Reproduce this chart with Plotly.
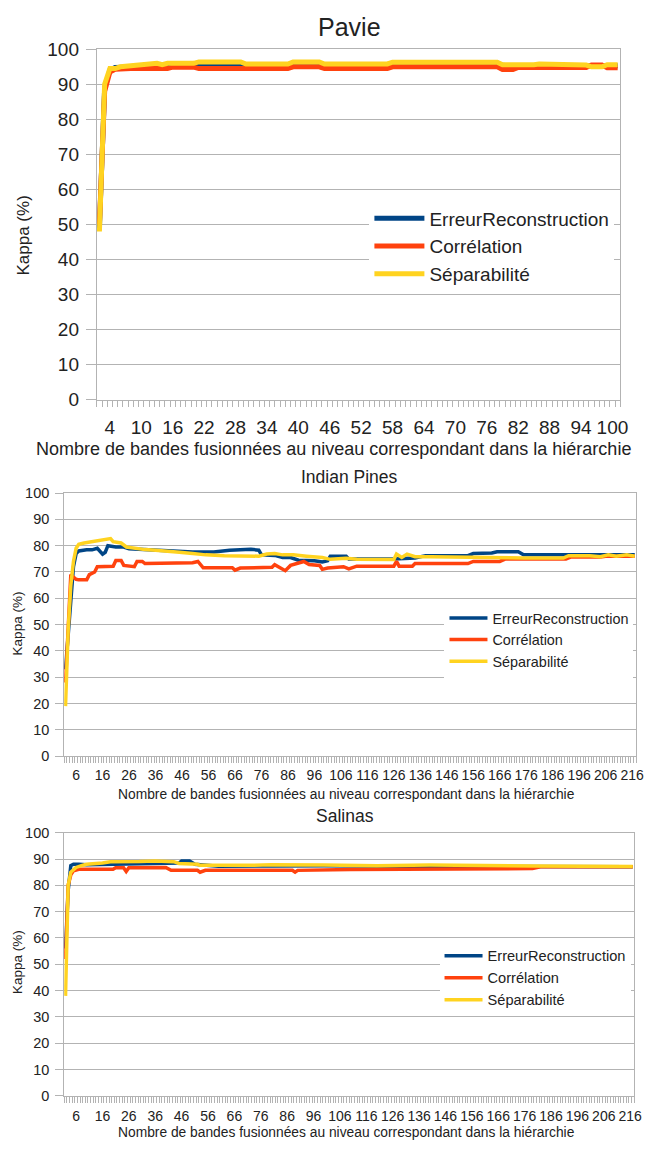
import plotly.graph_objects as go

W, H = 651, 1153
FONT = "Liberation Sans"
TEXT = "#222222"
GRID = "#b3b3b3"
BLUE, ORANGE, YELLOW = "#004586", "#ff420e", "#ffd320"
NAMES = ["ErreurReconstruction", "Corrélation", "Séparabilité"]
XTITLE = "Nombre de bandes fusionnées au niveau correspondant dans la hiérarchie"
YTITLE = "Kappa (%)"

# ---------------- Pavie (levels 2..101) ----------------
pavie_err_x = [2, 3, 4, 5, 10, 20, 40, 60, 78, 84, 86, 96, 101]
pavie_err_y = [49, 89, 94, 94.8, 95.0, 95.3, 95.3, 95.5, 95.5, 95.0, 95.3, 95.2, 95.3]

pavie_cor_x = [2, 3, 4, 5, 8, 15, 16, 20, 21, 38, 39, 44, 45, 57, 58, 78, 79, 81, 82, 95, 96, 98, 99, 101]
pavie_cor_y = [50, 88, 93.5, 94.3, 94.5, 94.5, 94.9, 94.9, 94.5, 94.5, 95.0, 95.0, 94.5, 94.5, 95.0,
               95.0, 94.2, 94.2, 94.8, 94.8, 95.5, 95.5, 94.7, 94.7]

pavie_sep_x = [2, 3, 4, 5, 6, 8, 9, 12, 13, 14, 15, 20, 21, 29, 30, 38, 39, 44, 45, 57, 58, 78, 79,
               85, 86, 95, 96, 98, 99, 101]
pavie_sep_y = [48, 90, 94.5, 94.5, 95.0, 95.2, 95.6, 95.6, 96.0, 95.6, 96.0, 96.0, 96.4, 96.4, 95.8,
               95.8, 96.4, 96.4, 95.8, 95.8, 96.3, 96.3, 95.6, 95.6, 95.8, 95.5, 95.0, 95.0, 95.6, 95.6]

pavie_ticks = [4, 10, 16, 22, 28, 34, 40, 46, 52, 58, 64, 70, 76, 82, 88, 94, 100]

# ---------------- Indian Pines (levels 2..217) ----------------
indian_err_x = [2, 3, 4, 5, 6, 7, 10, 12, 14, 16, 17, 18, 21, 24, 26, 32, 40, 50, 58, 64, 72, 75, 76,
                81, 84, 87, 90, 96, 99, 101, 102, 108, 109, 126, 134, 138, 154, 156, 163, 165, 173,
                175, 200, 217]
indian_err_y = [33, 47, 62, 72, 77, 78, 78.4, 78.4, 79, 76.8, 77.5, 80, 79.5, 79.5, 78.8, 78.5, 78,
                77.6, 77.6, 78.3, 78.6, 78.3, 76.5, 76.3, 75.5, 75.5, 74.5, 74.3, 73.8, 74.3, 76, 76,
                74.9, 74.9, 75.3, 76.2, 76.2, 77, 77.2, 77.7, 77.7, 76.5, 76.5, 76.5]

indian_cor_x = [2, 3, 4, 5, 6, 7, 10, 11, 13, 14, 20, 21, 23, 24, 28, 29, 31, 32, 45, 50, 52, 54, 65,
                66, 68, 80, 81, 83, 85, 87, 92, 94, 98, 99, 101, 107, 109, 112, 126, 127, 128, 133,
                134, 154, 156, 166, 168, 191, 193, 204, 206, 217]
indian_cor_y = [28, 50, 69, 68, 67.2, 67, 67, 69, 70, 72, 72.2, 74.4, 74.4, 72.5, 72, 74, 74, 73.2,
                73.2, 73.5, 74, 71.6, 71.6, 70.7, 71.5, 71.8, 72.8, 71.5, 70.5, 72.5, 74, 72.8, 72.5,
                71, 71.5, 72, 71.2, 72.2, 72.2, 74, 72.2, 72.2, 73.2, 73.2, 74, 74, 74.9, 74.9, 75.7,
                75.7, 76, 76]

indian_sep_x = [2, 3, 4, 5, 6, 7, 9, 12, 15, 17, 19, 20, 23, 25, 28, 32, 36, 40, 45, 50, 55, 62, 68,
                75, 78, 81, 84, 88, 93, 99, 102, 108, 112, 120, 126, 127, 129, 131, 134, 140, 150,
                166, 175, 190, 192, 200, 204, 207, 210, 214, 217]
indian_sep_y = [19, 48, 65, 74, 79, 80.5, 81, 81.5, 81.8, 82.3, 82.7, 81.5, 81, 79.5, 79, 78.5, 78.3,
                77.8, 77.5, 77, 76.5, 76.2, 76, 76, 76.8, 77, 76.5, 76.5, 76, 75.5, 74.8, 75.2, 74.8,
                74.7, 74.7, 76.8, 75.5, 76.8, 75.8, 75.8, 75.6, 75.6, 75.3, 75.3, 76.2, 76.2, 75.8,
                76.5, 76, 76.5, 76]

# ---------------- Salinas (levels 2..217) ----------------
salinas_err_x = [2, 3, 4, 5, 7, 10, 20, 30, 40, 45, 46, 49, 51, 60, 80, 100, 130, 160, 200, 217]
salinas_err_y = [56, 78, 87.5, 88, 88, 87.8, 88, 88.1, 88.3, 88.5, 89.3, 89.3, 88, 87.3, 87.4, 87.5,
                 87.3, 87.2, 87.1, 87.1]

salinas_cor_x = [2, 3, 4, 5, 7, 20, 21, 24, 25, 26, 40, 42, 52, 53, 55, 88, 89, 90, 110, 140, 179,
                 182, 217]
salinas_cor_y = [52, 80, 84, 85.5, 86.1, 86.1, 86.7, 86.7, 85.3, 86.7, 86.8, 85.7, 85.7, 85, 85.7,
                 85.7, 85, 85.7, 86, 86.3, 86.4, 87.1, 87.1]

salinas_sep_x = [2, 3, 4, 5, 6, 8, 10, 16, 19, 30, 36, 43, 45, 52, 53, 70, 80, 100, 120, 140, 160,
                 180, 217]
salinas_sep_y = [38, 80, 85, 86, 86.8, 87.5, 88, 88.5, 89, 89.1, 89.3, 89, 88.3, 88, 87.6, 87.6, 87.8,
                 87.7, 87.5, 87.7, 87.4, 87.4, 87.2]

hyper_ticks = [6, 16, 26, 36, 46, 56, 66, 76, 86, 96, 106, 116, 126, 136, 146, 156, 166, 176, 186,
               196, 206, 216]
kappa_ticks = [0, 10, 20, 30, 40, 50, 60, 70, 80, 90, 100]


def px(x):
    return x / W


def py(y):
    return 1 - y / H


panels = [
    dict(suffix="", legend="legend", title="Pavie",
         series=[(pavie_err_x, pavie_err_y), (pavie_cor_x, pavie_cor_y), (pavie_sep_x, pavie_sep_y)],
         box=(98, 628, 40, 397), xrange=[1.5, 101.5], xticks=pavie_ticks,
         lw=5, tick=19, ytick=19, title_size=25, title_xy=(354, 17),
         xtitle_size=18, xtitle_xy=(338, 447), ytitle_size=17, ytitle_xy=(24, 230),
         ylen=10, yst=3, xst=10, mlen=6),
    dict(suffix="2", legend="legend2", title="Indian Pines",
         series=[(indian_err_x, indian_err_y), (indian_cor_x, indian_cor_y), (indian_sep_x, indian_sep_y)],
         box=(65, 644, 492, 760), xrange=[1.5, 217.5], xticks=hyper_ticks,
         lw=3.5, tick=14, ytick=14.5, title_size=17.5, title_xy=(354, 476),
         xtitle_size=13.8, xtitle_xy=(351, 799), ytitle_size=13.5, ytitle_xy=(18, 625),
         ylen=8, yst=3, xst=6, mlen=6),
    dict(suffix="3", legend="legend3", title="Salinas",
         series=[(salinas_err_x, salinas_err_y), (salinas_cor_x, salinas_cor_y), (salinas_sep_x, salinas_sep_y)],
         box=(65, 642, 838, 1106), xrange=[1.5, 217.5], xticks=hyper_ticks,
         lw=3.5, tick=14, ytick=14.5, title_size=17.5, title_xy=(349, 821),
         xtitle_size=13.8, xtitle_xy=(351, 1143), ytitle_size=13.5, ytitle_xy=(18, 970),
         ylen=8, yst=3, xst=7, mlen=6),
]

fig = go.Figure()
annotations = []
layout = {}

for p in panels:
    s = p["suffix"]
    for (xs, ys), name, color in zip(p["series"], NAMES, [BLUE, ORANGE, YELLOW]):
        fig.add_trace(go.Scatter(
            x=xs, y=ys, name=name, mode="lines",
            line=dict(color=color, width=p["lw"]),
            xaxis="x" + s, yaxis="y" + s, legend=p["legend"],
            hoverinfo="skip",
        ))
    x0, x1, y0, y1 = p["box"]
    layout["xaxis" + s] = dict(
        domain=[px(x0), px(x1)], anchor="y" + s, range=p["xrange"],
        tickmode="array", tickvals=p["xticks"], ticktext=[str(v) for v in p["xticks"]],
        ticks="", ticklabelstandoff=p["xst"], showgrid=False, zeroline=False,
        showline=True, linecolor=GRID, linewidth=1, mirror=True,
        tickfont=dict(family=FONT, size=p["tick"], color=TEXT),
        minor=dict(ticks="outside", ticklen=p["mlen"], tickcolor=GRID, tickwidth=1,
                   tick0=1.5, dtick=1, showgrid=False),
    )
    layout["yaxis" + s] = dict(
        domain=[py(y1), py(y0)], anchor="x" + s, range=[0, 100],
        tickmode="array", tickvals=kappa_ticks, ticktext=[str(v) for v in kappa_ticks],
        ticks="outside", ticklen=p["ylen"], tickcolor=GRID, ticklabelstandoff=p["yst"],
        showgrid=True, gridcolor=GRID, gridwidth=1, zeroline=False,
        showline=True, linecolor=GRID, linewidth=1, mirror=True,
        tickfont=dict(family=FONT, size=p["ytick"], color=TEXT),
    )
    tx, ty = p["title_xy"]
    annotations.append(dict(text=p["title"], x=px(tx), y=py(ty), xref="paper", yref="paper",
                            showarrow=False, xanchor="center", yanchor="middle",
                            font=dict(family=FONT, size=p["title_size"], color=TEXT)))
    tx, ty = p["xtitle_xy"]
    annotations.append(dict(text=XTITLE, x=px(tx), y=py(ty), xref="paper", yref="paper",
                            showarrow=False, xanchor="center", yanchor="middle",
                            font=dict(family=FONT, size=p["xtitle_size"], color=TEXT)))
    tx, ty = p["ytitle_xy"]
    annotations.append(dict(text=YTITLE, x=px(tx), y=py(ty), xref="paper", yref="paper",
                            showarrow=False, xanchor="center", yanchor="middle", textangle=-90,
                            font=dict(family=FONT, size=p["ytitle_size"], color=TEXT)))

legend_common = dict(xanchor="left", yanchor="top", bgcolor="white", borderwidth=0,
                     tracegroupgap=0)
layout["legend"] = dict(legend_common, x=px(374), y=py(193),
                        font=dict(family=FONT, size=19, color=TEXT), itemwidth=50)
layout["legend2"] = dict(legend_common, x=px(450), y=py(603),
                         font=dict(family=FONT, size=14.4, color=TEXT), itemwidth=38)
layout["legend3"] = dict(legend_common, x=px(445), y=py(947),
                         font=dict(family=FONT, size=14.6, color=TEXT), itemwidth=38)

fig.update_layout(
    width=W, height=H, margin=dict(l=0, r=0, t=0, b=0),
    paper_bgcolor="white", plot_bgcolor="white",
    showlegend=True, annotations=annotations, **layout,
)

fig.write_html("out.html", config={"displayModeBar": False})
